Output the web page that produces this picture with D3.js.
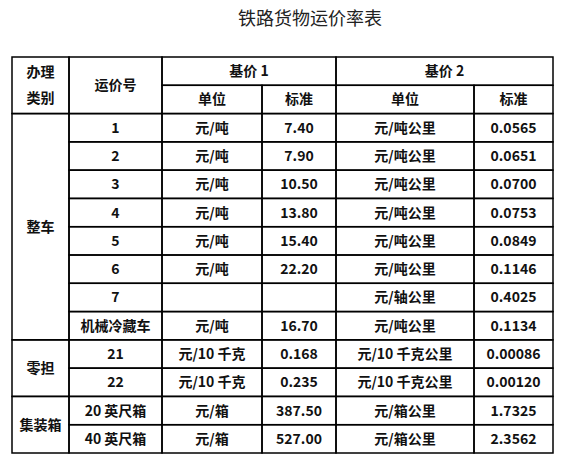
<!DOCTYPE html>
<html><head><meta charset="utf-8">
<script src="https://cdn.jsdelivr.net/npm/d3@7"></script>
<style>body{margin:0;background:#fff}</style></head>
<body><svg id="c" width="563" height="461"></svg>
<script>
var title = "铁路货物运价率表";
var groups = [{name:"整车", rows:8}, {name:"零担", rows:2}, {name:"集装箱", rows:2}];
var codes = ["1","2","3","4","5","6","7","机械冷藏车","21","22","20 英尺箱","40 英尺箱"];
var unit1 = ["元/吨","元/吨","元/吨","元/吨","元/吨","元/吨","","元/吨","元/10 千克","元/10 千克","元/箱","元/箱"];
var rate1 = ["7.40","7.90","10.50","13.80","15.40","22.20","","16.70","0.168","0.235","387.50","527.00"];
var unit2 = ["元/吨公里","元/吨公里","元/吨公里","元/吨公里","元/吨公里","元/吨公里","元/轴公里","元/吨公里","元/10 千克公里","元/10 千克公里","元/箱公里","元/箱公里"];
var rate2 = ["0.0565","0.0651","0.0700","0.0753","0.0849","0.1146","0.4025","0.1134","0.00086","0.00120","1.7325","2.3562"];

var colEdges = [12, 69, 162, 262, 336, 474, 553];
var svg = d3.select("#c");
var font = "'Noto Sans CJK SC', sans-serif";
var y = d3.scaleLinear().domain([0, 14]).range([57, 453]);

svg.append("text").attr("x", 310).attr("y", 25).attr("text-anchor", "middle")
  .attr("font-family", font).attr("font-size", 18).attr("fill", "#222").text(title);

var cells = [];
function cell(c0, c1, r0, r1, t) { cells.push({c0:c0, c1:c1, r0:r0, r1:r1, t:t}); }
cell(0,1,0,2,"办理\n类别"); cell(1,2,0,2,"运价号");
cell(2,4,0,1,"基价 1"); cell(4,6,0,1,"基价 2");
cell(2,3,1,2,"单位"); cell(3,4,1,2,"标准"); cell(4,5,1,2,"单位"); cell(5,6,1,2,"标准");
var r = 2;
groups.forEach(function(g){ cell(0,1,r,r+g.rows,g.name); r += g.rows; });
codes.forEach(function(c, i){
  var rr = i + 2;
  cell(1,2,rr,rr+1,c); cell(2,3,rr,rr+1,unit1[i]); cell(3,4,rr,rr+1,rate1[i]);
  cell(4,5,rr,rr+1,unit2[i]); cell(5,6,rr,rr+1,rate2[i]);
});

var g = svg.selectAll(".cell").data(cells).enter().append("g").attr("class","cell");
g.append("rect")
  .attr("x", function(d){ return colEdges[d.c0]; })
  .attr("y", function(d){ return y(d.r0); })
  .attr("width", function(d){ return colEdges[d.c1] - colEdges[d.c0]; })
  .attr("height", function(d){ return y(d.r1) - y(d.r0); })
  .attr("fill", "none").attr("stroke", "#000").attr("stroke-width", 1.5);
g.each(function(d){
  var lines = d.t.split("\n");
  var cx = (colEdges[d.c0] + colEdges[d.c1]) / 2;
  var cy = (y(d.r0) + y(d.r1)) / 2;
  var t = d3.select(this).append("text").attr("text-anchor","middle")
    .attr("font-family", font).attr("font-size", 14).attr("font-weight", 700).attr("fill","#111");
  lines.forEach(function(l, i){
    t.append("tspan").attr("x", cx).attr("y", cy + 5 + (i - (lines.length-1)/2) * 26).text(l);
  });
});
</script></body></html>
